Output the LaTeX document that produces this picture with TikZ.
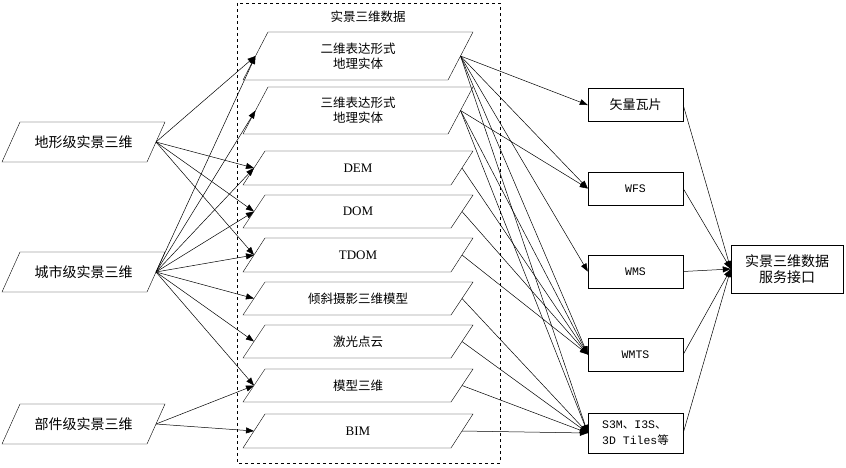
\documentclass[tikz,border=0pt]{standalone}
\usepackage{fontspec}
\setmainfont{Liberation Serif}
\newfontfamily\cjk{Noto Sans CJK SC}
\newfontfamily\mono{Liberation Mono}
\usetikzlibrary{arrows.meta}
\newcommand\mypara[8]{% name, x1, x2, y1, y2, slant, font, text
  \draw[thin] (#2,#5)--(#2+#6,#4)--(#3,#4)--(#3-#6,#5)--cycle;
  \coordinate (#1-l) at ({#2+#6/2},{(#4+#5)/2});
  \coordinate (#1-r) at ({#3-#6/2},{(#4+#5)/2});
  \node[txt,font=#7] (#1) at ({(#2+#3)/2},{(#4+#5)/2}) {#8};}
\begin{document}
\begin{tikzpicture}[x=1pt,y=-1pt,
  txt/.style={align=center,inner sep=0},
  big/.style={},
  box/.style={draw,thin,minimum height=33pt,inner sep=2pt,font=\cjk\fontsize{13}{15}\selectfont,align=center},
  arr/.style={-{Triangle[length=8pt,width=6pt]},line width=0.5pt}]
\def\fa{\cjk\fontsize{14}{16}\selectfont}
\def\fb{\cjk\fontsize{12.5}{15}\selectfont}
\def\fc{\fontsize{13}{15}\selectfont}
\useasboundingbox (0,0) rectangle (846,467);
\draw[dashed,line width=0.6pt] (237,3) rectangle (500,463);
\node[txt,font=\fb] (title) at (368,17) {实景三维数据};
% left
\mypara{a}{2}{165}{122}{162}{18}{\fa}{地形级实景三维}
\mypara{b}{2}{165}{252}{292}{18}{\fa}{城市级实景三维}
\mypara{c}{2}{165}{404}{444}{18}{\fa}{部件级实景三维}
% middle
\mypara{m1}{243}{473}{32}{80}{25}{\fb}{二维表达形式\\地理实体}
\mypara{m2}{243}{473}{87}{134}{25}{\fb}{三维表达形式\\地理实体}
\mypara{m3}{243}{473}{151}{185}{22}{\fc}{DEM}
\mypara{m4}{243}{473}{195}{228}{22}{\fc}{DOM}
\mypara{m5}{243}{473}{238}{272}{22}{\fc}{TDOM}
\mypara{m6}{243}{473}{282}{315}{22}{\fb}{倾斜摄影三维模型}
\mypara{m7}{243}{473}{325}{358}{22}{\fb}{激光点云}
\mypara{m8}{243}{473}{369}{402}{22}{\fb}{模型三维}
\mypara{m9}{243}{473}{414}{448}{22}{\fc}{BIM}
% right
\node[box,minimum width=95pt] (r1) at (635.5,105) {矢量瓦片};
\node[box,minimum width=95pt,font=\mono\fontsize{11.5}{13}\selectfont] (r2) at (635.5,188.5) {WFS};
\node[box,minimum width=95pt,font=\mono\fontsize{11.5}{13}\selectfont] (r3) at (635.5,271.5) {WMS};
\node[box,minimum width=95pt,font=\mono\fontsize{11.5}{13}\selectfont] (r4) at (635.5,354.5) {WMTS};
\node[box,minimum width=95pt,minimum height=40pt,font=\mono\fontsize{11.5}{16}\selectfont,align=left] (r5) at (635.5,433) {S3M{\cjk 、}I3S{\cjk 、}\\3D Tiles{\cjk 等}};
\node[box,minimum width=112pt,minimum height=48pt,font=\fa] (api) at (787,269) {实景三维数据\\服务接口};
% left connectors
\foreach \t in {m1,m3,m4,m5} \draw[arr] (a-r) -- (\t-l);
\foreach \t in {m1,m2,m3,m4,m5,m6,m7,m8} \draw[arr] (b-r) -- (\t-l);
\foreach \t in {m8,m9} \draw[arr] (c-r) -- (\t-l);
% right connectors
\foreach \t in {r1,r2,r3,r4,r5} \draw[arr] (m1-r) -- (\t.west);
\foreach \t in {r2,r4,r5} \draw[arr] (m2-r) -- (\t.west);
\foreach \t in {m3,m4,m5} \draw[arr] (\t-r) -- (r4.west);
\foreach \t in {m6,m7,m8,m9} \draw[arr] (\t-r) -- (r5.west);
\foreach \t in {r1,r2,r3,r4,r5} \draw[arr] (\t.east) -- (api.west);
\end{tikzpicture}
\end{document}
